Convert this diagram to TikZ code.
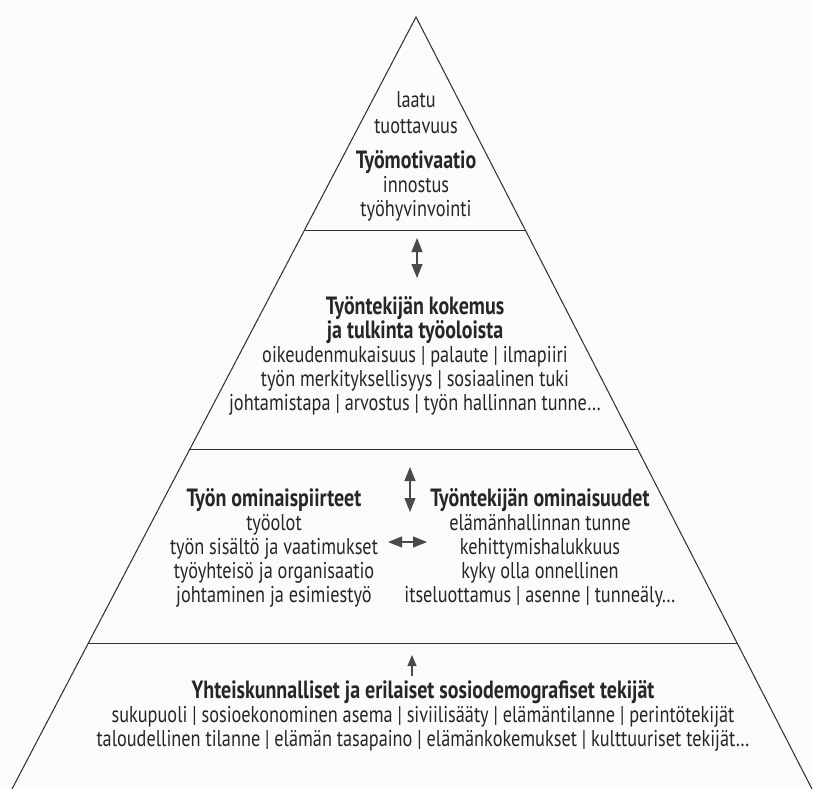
\documentclass[tikz,border=0pt]{standalone}
\usepackage{fontspec}
\setmainfont{PT Sans}[FakeStretch=0.8]
\usepackage{xcolor}
\definecolor{ink}{HTML}{262626}
\definecolor{rule}{HTML}{333333}
\definecolor{tip}{HTML}{4A4A4A}
\definecolor{paper}{HTML}{FBFBFB}
\usepackage{tikz}
\usetikzlibrary{arrows.meta, calc}
\newcommand{\hd}[1]{{\fontsize{14.2}{13.6}\selectfont\bfseries #1}}

\begin{document}
\begin{tikzpicture}[
  x=0.02cm, y=-0.02cm,
  font=\fontsize{13}{13.6}\selectfont, text=ink,
  txt/.style={align=center, inner sep=0pt},
  edge/.style={draw=rule, line width=0.6pt},
  link/.style={draw=tip, line width=0.6pt,
    {Triangle[length=2.8mm, width=2.2mm]}-{Triangle[length=2.8mm, width=2.2mm]}},
  lift/.style={draw=tip, line width=0.6pt, -{Triangle[length=2.2mm, width=1.8mm]}}
]
  \fill[paper] (0,0) rectangle (813,789);
  \useasboundingbox (0,0) rectangle (813,789);

  % pyramid outline
  \coordinate (apex) at (416,17);
  \coordinate (bl) at (12,789);
  \coordinate (br) at (812,789);
  \draw[edge] (bl) -- (apex) -- (br);
  \foreach \t in {0.276,0.560,0.812} {
    \draw[edge] ($(apex)!\t!(bl)$) -- ($(apex)!\t!(br)$);
  }

  % levels
  \node[txt] (motiv) at (416,156)
    {laatu\\[1.5pt]tuottavuus\\[6pt]\hd{Työmotivaatio}\\innostus\\työhyvinvointi};
  \node[txt] (kokemus) at (415,356)
    {\hd{Työntekijän kokemus}\\\hd{ja tulkinta työoloista}\\
     oikeudenmukaisuus | palaute | ilmapiiri\\
     työn merkityksellisyys | sosiaalinen tuki\\
     johtamistapa | arvostus | työn hallinnan tunne\textellipsis};
  \node[txt] (tyo) at (274,548)
    {\hd{Työn ominaispiirteet}\\työolot\\työn sisältö ja vaatimukset\\
     työyhteisö ja organisaatio\\johtaminen ja esimiestyö};
  \node[txt] (yksilo) at (540,548)
    {\hd{Työntekijän ominaisuudet}\\elämänhallinnan tunne\\kehittymishalukkuus\\
     kyky olla onnellinen\\itseluottamus | asenne | tunneäly\textellipsis};
  \node[txt] (yhteis) at (423,716)
    {\hd{Yhteiskunnalliset ja erilaiset sosiodemografiset tekijät}\\
     sukupuoli | sosioekonominen asema | siviilisääty | elämäntilanne | perintötekijät\\
     taloudellinen tilanne | elämän tasapaino | elämänkokemukset | kulttuuriset tekijät\textellipsis};

  % arrows
  \coordinate (a1) at (417,238);
  \coordinate (a2) at (417,278);
  \coordinate (b1) at (410,467);
  \coordinate (b2) at (410,512);
  \coordinate (c1) at (388,542);
  \coordinate (c2) at (427,542);
  \coordinate (d1) at (412,676);
  \coordinate (d2) at (412,655);
  \draw[link] (a1) -- (a2);
  \draw[link] (b1) -- (b2);
  \draw[link] (c1) -- (c2);
  \draw[lift] (d1) -- (d2);
\end{tikzpicture}
\end{document}
